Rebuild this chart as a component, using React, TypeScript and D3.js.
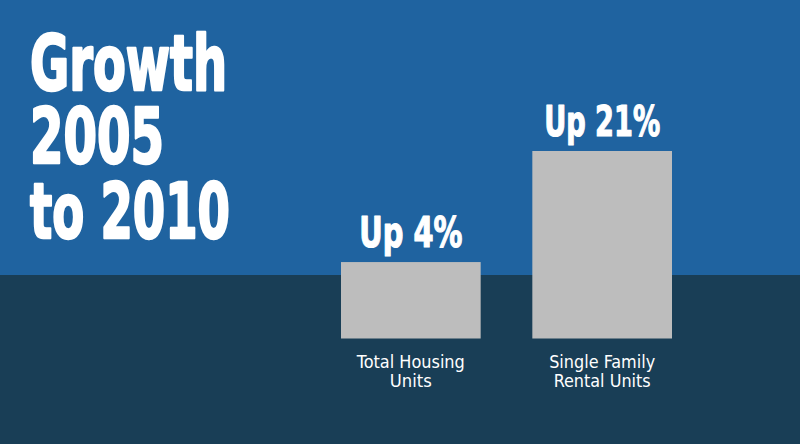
import React from "react";
import * as d3 from "d3";

const categories = ["Total Housing Units", "Single Family Rental Units"];
const categoryLines = [["Total Housing", "Units"], ["Single Family", "Rental Units"]];
const growthValues = [4, 21];
const valueLabels = ["Up 4%", "Up 21%"];
const titleLines = ["Growth", "2005", "to 2010"];

const W = 800;
const H = 444;
const TOP_BLUE = "#1f63a0";
const BOTTOM_NAVY = "#193e56";
const BAR_GREY = "#bdbdbd";

export default function App() {
  const x = d3.scaleBand<string>().domain(categories).range([341, 672]).paddingInner(0.27).paddingOuter(0);
  const y = d3.scaleLinear().domain([-7.7, 21]).range([338.5, 151]);
  const titleFont = "'DejaVu Sans Condensed', 'DejaVu Sans', sans-serif";
  const labelFont = "'Ubuntu Condensed', 'DejaVu Sans Condensed', 'DejaVu Sans', sans-serif";
  const titleBaselines = [90, 163, 238];
  const titleWidths = [197, 134, 200];
  const labelWidths = [[108, 42], [106, 97]];
  const valueWidths = [103, 116];
  return (
    <svg width={W} height={H} style={{ position: "absolute", left: 0, top: 0 }}>
      <rect x={0} y={0} width={W} height={275} fill={TOP_BLUE} />
      <rect x={0} y={275} width={W} height={H - 275} fill={BOTTOM_NAVY} />
      {titleLines.map((t, i) => (
        <text key={t} x={30} y={titleBaselines[i]} fill="#fff" stroke="#fff" strokeWidth={2.5} strokeLinejoin="round"
          fontFamily={titleFont} fontWeight="bold" fontSize={77}
          textLength={titleWidths[i]} lengthAdjust="spacingAndGlyphs">{t}</text>
      ))}
      {categories.map((c, i) => {
        const bx = x(c)!;
        const cx = bx + x.bandwidth() / 2;
        return (
          <g key={c}>
            <rect x={bx} y={y(growthValues[i])} width={x.bandwidth()} height={y.range()[0] - y(growthValues[i])} fill={BAR_GREY} />
            <text x={cx} y={y(growthValues[i]) - 15} textAnchor="middle" fill="#fff" stroke="#fff" strokeWidth={1.2}
              strokeLinejoin="round" fontFamily={titleFont} fontWeight="bold"
              fontSize={42} textLength={valueWidths[i]} lengthAdjust="spacingAndGlyphs">{valueLabels[i]}</text>
            {categoryLines[i].map((ln, j) => (
              <text key={ln} x={cx} y={368 + j * 19} textAnchor="middle" fill="#fff" fontFamily={labelFont} fontSize={18.5}
                textLength={labelWidths[i][j]} lengthAdjust="spacingAndGlyphs">{ln}</text>
            ))}
          </g>
        );
      })}
    </svg>
  );
}
